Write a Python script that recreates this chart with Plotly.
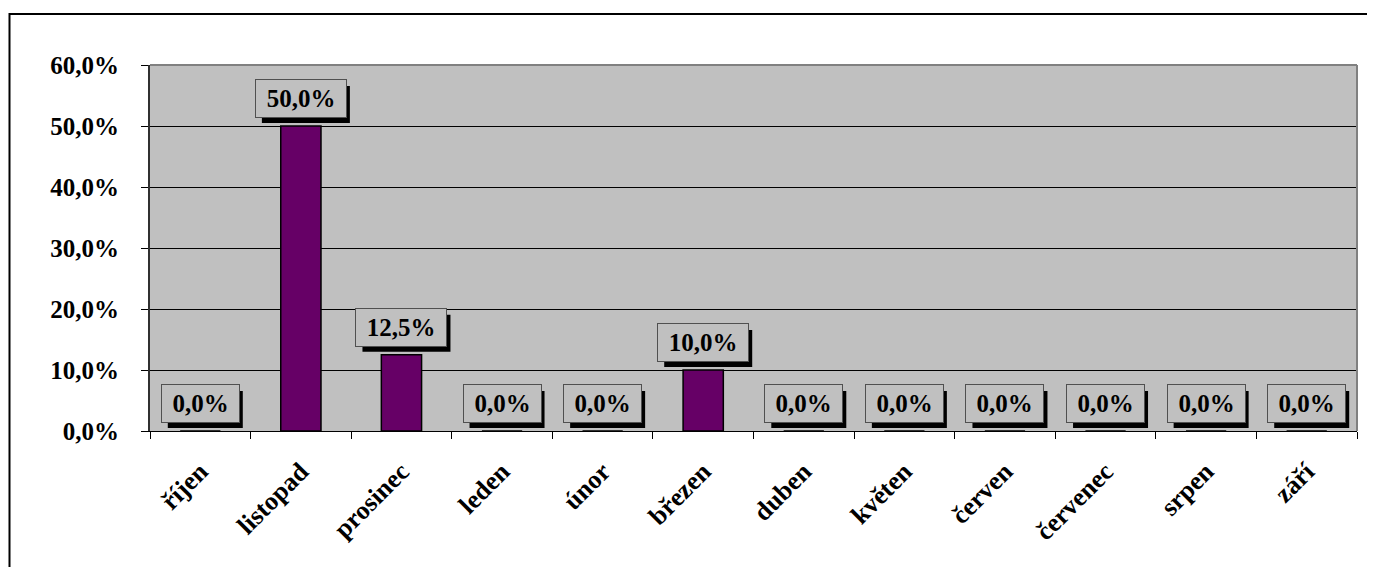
import plotly.graph_objects as go

months = ["říjen", "listopad", "prosinec", "leden", "únor", "březen",
          "duben", "květen", "červen", "červenec", "srpen", "září"]
values = [0.0, 0.50, 0.125, 0.0, 0.0, 0.10, 0.0, 0.0, 0.0, 0.0, 0.0, 0.0]

OFF = 8  # page body margin
W, H = 1375 - OFF, 567 - OFF
L, R, T, B = 150 - OFF, 1357 - OFF, 65 - OFF, 431 - OFF

font_family = "Liberation Serif"

fig = go.Figure()
fig.add_trace(go.Bar(
    x=months, y=values, width=0.4,
    marker=dict(color="#660066", line=dict(color="black", width=1.5)),
    hoverinfo="skip",
))

pw, ph = R - L, B - T
def px(xp):
    return (xp - OFF - L) / pw
def py(yp):
    return (B - (yp - OFF)) / ph

annotations = []
shapes = []
BOX_H, GAP, SH = 37, 8, 5
for i, (m, v) in enumerate(zip(months, values)):
    txt = "<b>" + f"{v*100:.1f}%".replace(".", ",") + "</b>"
    w = 75 if v < 0.1 else 88
    # shadow as pixel-sized rectangle anchored to the data point
    shapes.append(dict(
        type="rect", xref="x", yref="y", xsizemode="pixel", ysizemode="pixel",
        xanchor=i, yanchor=v,
        x0=-w / 2 + SH, x1=w / 2 + SH, y0=GAP - SH, y1=GAP - SH + BOX_H,
        fillcolor="black", line=dict(width=0), layer="above",
    ))
    annotations.append(dict(
        x=m, y=v, xref="x", yref="y", text=txt, showarrow=False,
        xanchor="center", yanchor="bottom", yshift=GAP,
        width=w, height=BOX_H - 2, bgcolor="#C0C0C0", bordercolor="#505050", borderwidth=1,
        font=dict(family=font_family, size=25, color="black"),
    ))

shapes += [
    # outer chart border (top and left visible)
    dict(type="line", xref="paper", yref="paper", x0=px(9), x1=px(1390), y0=py(14), y1=py(14),
         line=dict(color="black", width=2)),
    dict(type="line", xref="paper", yref="paper", x0=px(9.5), x1=px(9.5), y0=py(13), y1=py(590),
         line=dict(color="black", width=2)),
    # plot area top/right gray border
    dict(type="line", xref="paper", yref="paper", x0=0, x1=1, y0=1, y1=1,
         line=dict(color="#808080", width=2), layer="above"),
    dict(type="line", xref="paper", yref="paper", x0=1, x1=1, y0=0, y1=1,
         line=dict(color="#808080", width=2), layer="above"),
]

fig.update_layout(
    width=W, height=H,
    margin=dict(l=L, r=W - R, t=T, b=H - B, pad=0),
    paper_bgcolor="white", plot_bgcolor="#C0C0C0",
    separators=", ",
    showlegend=False,
    annotations=annotations,
    shapes=shapes,
    font=dict(family=font_family, color="black"),
    xaxis=dict(
        type="category", tickson="boundaries", ticks="outside", ticklen=7,
        tickcolor="black", tickwidth=1, showline=True, linecolor="black", linewidth=1,
        showgrid=False, tickangle=-45, ticklabelstandoff=14,
        tickfont=dict(family=font_family, size=26, color="black", weight="bold"),
        range=[-0.5, 11.5],
    ),
    yaxis=dict(
        range=[0, 0.6], dtick=0.1, tickformat=".1%", ticks="outside", ticklen=7,
        tickcolor="black", showline=True, linecolor="#303030", linewidth=2,
        showgrid=True, gridcolor="black", gridwidth=1, zeroline=False,
        ticklabelstandoff=17,
        tickfont=dict(family=font_family, size=25, color="black", weight="bold"),
    ),
)

fig.write_html("out.html")
